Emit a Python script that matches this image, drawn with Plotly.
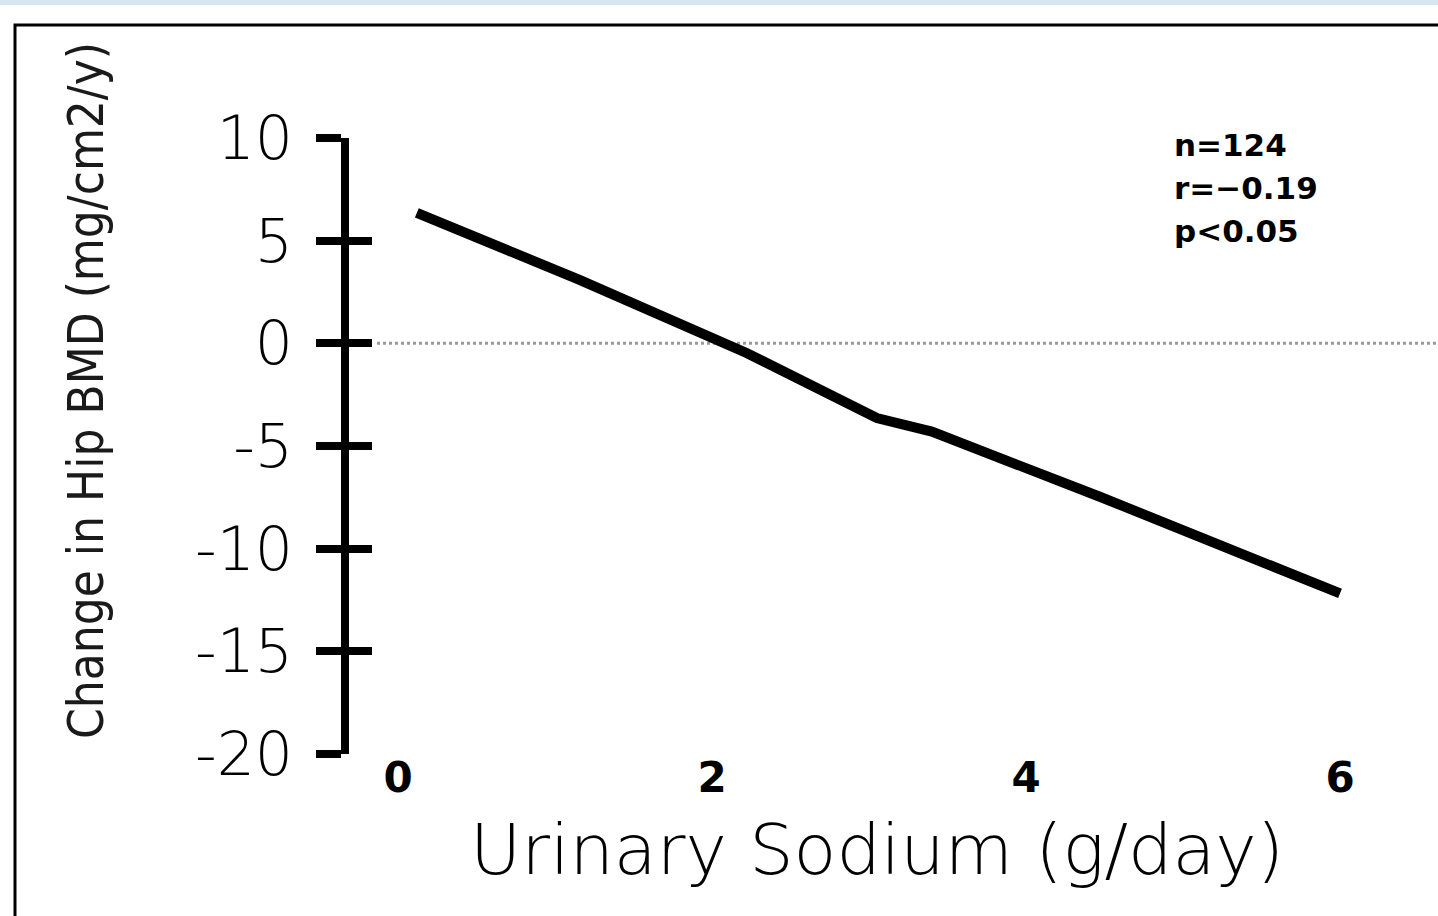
import plotly.graph_objects as go

# Fitted regression line: change in hip BMD vs. urinary sodium
sodium = [0.12, 1.16, 2.22, 3.05, 3.40, 4.47, 6.00]
bmd_change = [6.35, 3.08, -0.47, -3.64, -4.30, -7.47, -12.18]

y_ticks = [10, 5, 0, -5, -10, -15, -20]
y_tick_text = ["10", "5", "0", "-5", "-10", "-15", "-20"]
x_ticks = [0, 2, 4, 6]
x_tick_text = ["0", "2", "4", "6"]
stats_lines = ["n=124", "r=\u22120.19", "p<0.05"]

W, H = 1438, 916
# plot area in page pixels
L, R, T, B = 349, 1438, 138, 754


def px_x(p):
    return (p - L) / (R - L)


def px_y(p):
    return (B - p) / (B - T)


fig = go.Figure()

fig.add_trace(go.Scatter(
    x=sodium, y=bmd_change, mode="lines",
    line=dict(color="black", width=10),
    hoverinfo="skip", showlegend=False,
))
# carrier for the inward half of the crossing ticks
fig.add_trace(go.Scatter(x=[None], y=[None], yaxis="y2", showlegend=False, hoverinfo="skip"))

tick_font = dict(family="DejaVu Sans", size=60, color="black", weight=200)

fig.update_layout(
    width=W, height=H,
    margin=dict(l=L, r=W - R, t=T, b=H - B, pad=0),
    paper_bgcolor="white", plot_bgcolor="white",
    xaxis=dict(
        range=[-0.312, 6.624], showgrid=False, zeroline=False, showline=False,
        ticks="", tickvals=x_ticks, ticktext=x_tick_text,
        tickfont=dict(family="DejaVu Sans", size=42, color="black", weight="bold"),
        ticklabelstandoff=-5,
    ),
    yaxis=dict(
        range=[-20, 10], showgrid=False, zeroline=False,
        showline=True, linecolor="black", linewidth=8,
        ticks="outside", ticklen=25, tickwidth=8, tickcolor="black",
        tickvals=y_ticks, ticktext=y_tick_text, tickfont=tick_font,
        ticklabelstandoff=11,
    ),
    yaxis2=dict(
        range=[-20, 10], overlaying="y", side="left", anchor="x",
        showgrid=False, zeroline=False, showline=False,
        ticks="inside", ticklen=23, tickwidth=8, tickcolor="black",
        tickvals=y_ticks, showticklabels=False,
    ),
    showlegend=False,
)

shapes = [
    # thin band along the top edge
    dict(type="rect", xref="paper", yref="paper",
         x0=px_x(-5), x1=px_x(W + 5), y0=px_y(5), y1=px_y(-5),
         fillcolor="#d7e7f1", line=dict(width=0), layer="below"),
    # outer frame
    dict(type="rect", xref="paper", yref="paper",
         x0=px_x(15), x1=px_x(W + 20), y0=px_y(H + 20), y1=px_y(25),
         line=dict(color="black", width=3), fillcolor="rgba(0,0,0,0)", layer="below"),
    # dotted zero reference
    dict(type="line", xref="paper", yref="y",
         x0=px_x(377), x1=1.0, y0=0, y1=0,
         line=dict(color="#9a9a9a", width=3, dash="dot"), layer="below"),
]
fig.update_layout(shapes=shapes)

annotations = [
    dict(text="Change in Hip BMD (mg/cm2/y)", textangle=-90,
         xref="paper", yref="paper", x=px_x(86), y=px_y(391),
         xanchor="center", yanchor="middle", showarrow=False,
         font=dict(family="DejaVu Sans Condensed, DejaVu Sans", size=49, color="#1a1a1a")),
    dict(text="Urinary Sodium (g/day)",
         xref="paper", yref="paper", x=px_x(877), y=px_y(850),
         xanchor="center", yanchor="middle", showarrow=False,
         font=dict(family="DejaVu Sans", size=70, color="black", weight=200)),
]
for i, line in enumerate(stats_lines):
    annotations.append(dict(
        text=line, xref="paper", yref="paper",
        x=px_x(1172), y=px_y(145 + 43 * i),
        xanchor="left", yanchor="middle", showarrow=False,
        font=dict(family="DejaVu Sans", size=31, color="black", weight="bold"),
    ))
fig.update_layout(annotations=annotations)

fig.write_html("out.html")
